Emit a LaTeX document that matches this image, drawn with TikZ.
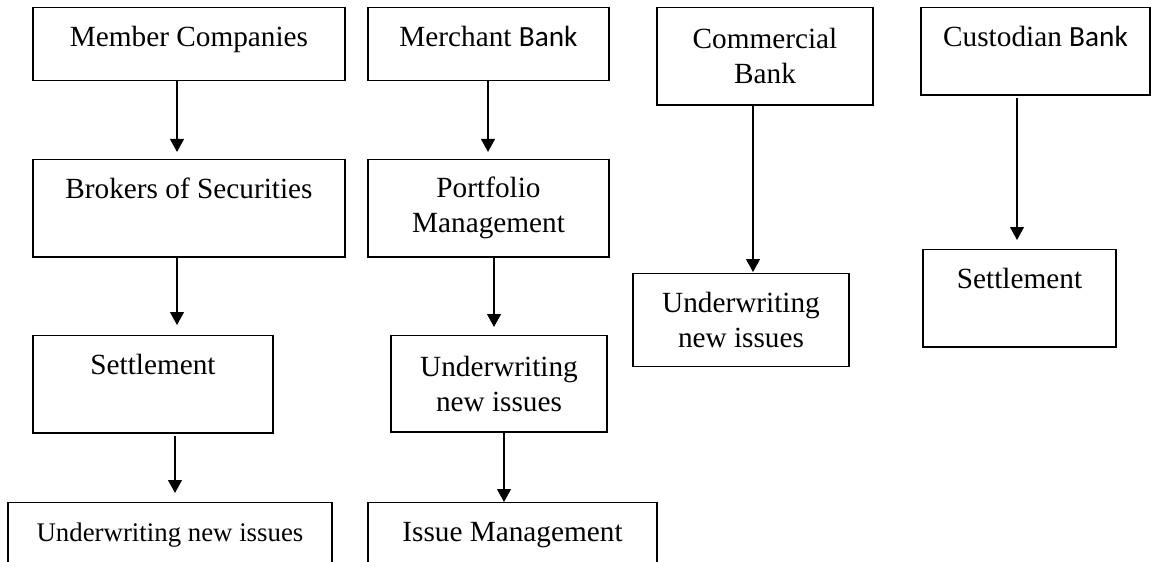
\documentclass[tikz,border=0pt]{standalone}
\usepackage{fontspec}
\setmainfont{Liberation Serif}
\newfontfamily\bankfont{Carlito}
\usepackage{tikz}
\usetikzlibrary{arrows.meta, positioning, calc}

\newcommand{\bank}{{\bankfont Bank}}

\begin{document}
\begin{tikzpicture}[
        x=0.41pt, y=-0.41pt,
        font=\fontsize{12}{14.4}\selectfont,
        box/.style={rectangle, draw, line width=0.6pt, anchor=north, inner xsep=2pt},
        topbox/.style={box, inner ysep=0pt, text height=16pt},
        midbox/.style={box, align=center, inner ysep=0pt},
        flow/.style={-{Triangle[width=5.7pt, length=5.3pt]}, line width=0.5pt}
    ]
        \clip (0,0) rectangle (1151,562);

        % Member companies
        \node[topbox, minimum width=127.9pt, text depth=13.9pt] (member) at (189,7) {Member Companies};
        \node[topbox, minimum width=127.9pt, text depth=23.8pt] (brokers) at (189,159) {Brokers of Securities};
        \node[topbox, minimum width=98.4pt, text depth=23.8pt] (settleA) at (153,335) {Settlement};
        \node[topbox, minimum width=132.8pt, text depth=40pt, font=\fontsize{11}{13.2}\selectfont] (underA) at (170,502) {Underwriting new issues};

        % Merchant bank
        \node[topbox, minimum width=98.8pt, text depth=13.9pt] (merchant) at (488.5,7) {Merchant \bank};
        \node[midbox, minimum width=98.8pt, minimum height=39.8pt] (portfolio) at (488.5,159) {Portfolio\\Management};
        \node[midbox, minimum width=88.6pt, minimum height=39.4pt] (underB) at (499,335) {Underwriting\\new issues};
        \node[topbox, minimum width=118.5pt, text depth=40pt] (issue) at (512.5,502) {Issue Management};

        % Commercial bank
        \node[midbox, minimum width=88.6pt, minimum height=39.8pt] (commercial) at (765,7) {Commercial\\Bank};
        \node[midbox, minimum width=88.6pt, minimum height=38.1pt] (underC) at (741,273) {Underwriting\\new issues};

        % Custodian bank
        \node[topbox, minimum width=93.9pt, text depth=19.7pt] (custodian) at (1035.5,7) {Custodian \bank};
        \node[topbox, minimum width=79.1pt, text depth=23.8pt] (settleB) at (1019.5,249) {Settlement};

        % Arrow columns
        \coordinate (colA) at (177,0);
        \coordinate (colB) at (175,0);
        \coordinate (colC) at (488,0);
        \coordinate (colD) at (494,0);
        \coordinate (colE) at (504,0);
        \coordinate (colF) at (753,0);
        \coordinate (colG) at (1017,0);

        \draw[flow, shorten >=2.9pt] (member.south -| colA) -- (brokers.north -| colA);
        \draw[flow, shorten >=4.1pt] (brokers.south -| colA) -- (settleA.north -| colA);
        \draw[flow, shorten <=1.2pt, shorten >=3.7pt] (settleA.south -| colB) -- (underA.north -| colB);
        \draw[flow, shorten >=2.9pt] (merchant.south -| colC) -- (portfolio.north -| colC);
        \draw[flow, shorten >=3.3pt] (portfolio.south -| colD) -- (underB.north -| colD);
        \draw[flow] (underB.south -| colE) -- (issue.north -| colE);
        \draw[flow, shorten >=0.4pt] (commercial.south -| colF) -- (underC.north -| colF);
        \draw[flow, shorten <=1.2pt, shorten >=3.7pt] (custodian.south -| colG) -- (settleB.north -| colG);
    \end{tikzpicture}
\end{document}
